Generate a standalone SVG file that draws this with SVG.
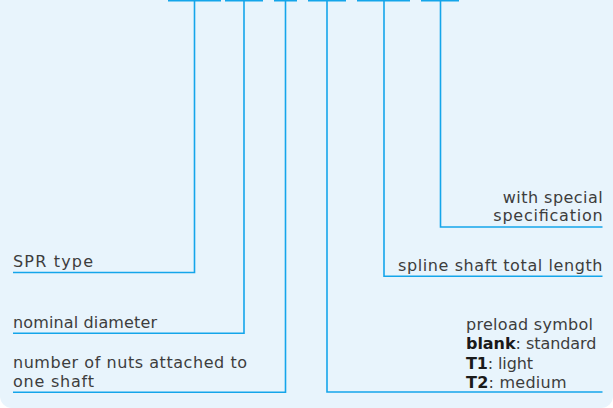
<svg xmlns="http://www.w3.org/2000/svg" width="613" height="408" viewBox="0 0 613 408">
<style>
.bg{fill:#e8f4fc}
.ln{fill:none;stroke:#14a5ea;stroke-width:1.6}
.t{font-family:"DejaVu Sans",sans-serif;font-size:16px;fill:#3d3d3d}
.r{text-anchor:end}
.b{font-weight:bold;fill:#1a1a1a}
</style>
<rect class="bg" x="0" y="-20" width="613" height="428" rx="12" ry="12"/>
<g id="connectors">
<path class="ln" d="M168 0.8H221M194.5 0.8V272.5H13"/>
<path class="ln" d="M225 0.8H263M244 0.8V333.3H13"/>
<path class="ln" d="M274 0.8H297M285.5 0.8V392.3H13"/>
<path class="ln" d="M308 0.8H346M327 0.8V392H602.5"/>
<path class="ln" d="M357 0.8H410M384 0.8V276.3H602.5"/>
<path class="ln" d="M421 0.8H459M440.5 0.8V227H602.5"/>
</g>
<g id="spr-type"><text class="t" x="13" y="266.7" textLength="80" lengthAdjust="spacing">SPR type</text></g>
<g id="nominal-diameter"><text class="t" x="13" y="327.5" textLength="144" lengthAdjust="spacing">nominal diameter</text></g>
<g id="nuts"><text class="t" x="13" y="368.3" textLength="234" lengthAdjust="spacing">number of nuts attached to</text><text class="t" x="13" y="387.3" textLength="81" lengthAdjust="spacing">one shaft</text></g>
<g id="preload"><text class="t" x="466" y="329.5" textLength="127" lengthAdjust="spacing">preload symbol</text><text class="t" x="466" y="349" textLength="130.5" lengthAdjust="spacing"><tspan class="b">blank</tspan>: standard</text><text class="t" x="466" y="368.5" textLength="67" lengthAdjust="spacing"><tspan class="b">T1</tspan>: light</text><text class="t" x="466" y="387.7" textLength="100.5" lengthAdjust="spacing"><tspan class="b">T2</tspan>: medium</text></g>
<g id="shaft-length"><text class="t" x="398" y="270.8" textLength="204.5" lengthAdjust="spacing">spline shaft total length</text></g>
<g id="special"><text class="t" x="502.7" y="202.8" textLength="100" lengthAdjust="spacing">with special</text><text class="t" x="493.3" y="220.6" textLength="109.3" lengthAdjust="spacing">specification</text></g>
</svg>
